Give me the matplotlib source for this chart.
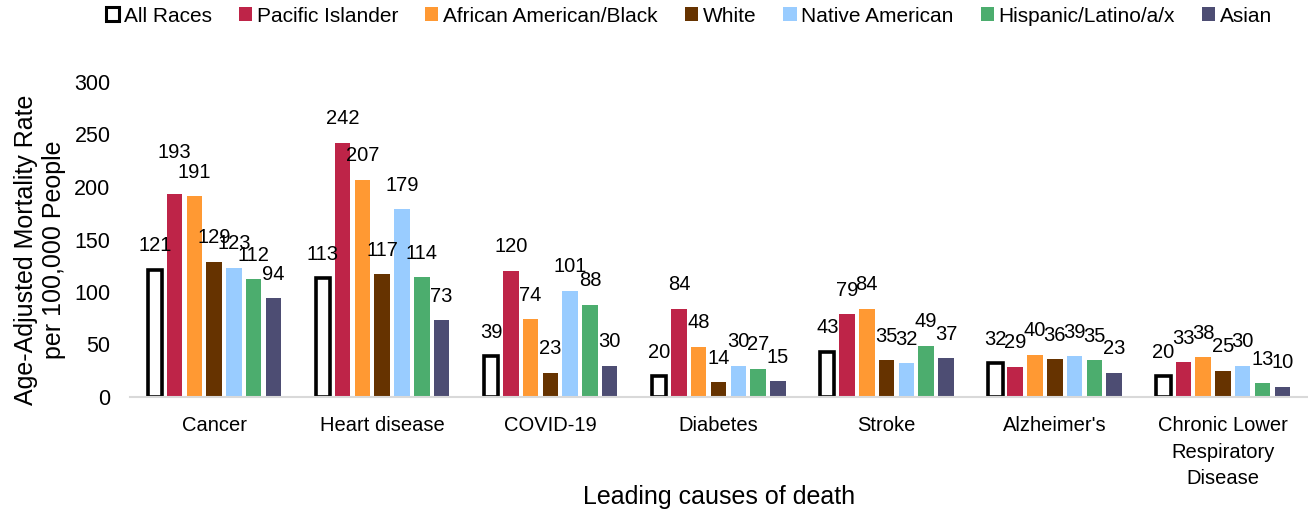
import matplotlib
matplotlib.use("Agg")
import matplotlib.pyplot as plt
import numpy as np
from matplotlib.patches import Patch

categories = ["Cancer", "Heart disease", "COVID-19", "Diabetes", "Stroke",
              "Alzheimer's", "Chronic Lower\nRespiratory\nDisease"]
series_names = ["All Races", "Pacific Islander", "African American/Black", "White",
                "Native American", "Hispanic/Latino/a/x", "Asian"]
all_races = [121, 113, 39, 20, 43, 32, 20]
pacific_islander = [193, 242, 120, 84, 79, 29, 33]
african_american = [191, 207, 74, 48, 84, 40, 38]
white = [129, 117, 23, 14, 35, 36, 25]
native_american = [123, 179, 101, 30, 32, 39, 30]
hispanic = [112, 114, 88, 27, 49, 35, 13]
asian = [94, 73, 30, 15, 37, 23, 10]
yticks = [0, 50, 100, 150, 200, 250, 300]

series = [all_races, pacific_islander, african_american, white,
          native_american, hispanic, asian]
colors = ["white", "#BE2448", "#FF9933", "#663300", "#99CCFF", "#4CAD6E", "#4D4D73"]
# manual label nudges (pixels, extra upward) as in the reference
label_extra = {(1, 0): 18}

FONT = "Liberation Sans"
plt.rcParams["font.family"] = [FONT, "DejaVu Sans"]

fig = plt.figure(figsize=(13.08, 5.12), dpi=100)
ax = fig.add_axes([130/1308, 1-397/512, (1307-130)/1308, (397-82)/512])

n = len(series)
step = 0.1177
width = 0.092
x = np.arange(len(categories))
for i, (vals, c) in enumerate(zip(series, colors)):
    pos = x + (i - (n-1)/2) * step
    if i == 0:
        ax.bar(pos, vals, width=width*0.93, color="white", edgecolor="black",
               linewidth=2.6, zorder=3)
    else:
        ax.bar(pos, vals, width=width, color=c, edgecolor="none", zorder=3)
    for j, (p, v) in enumerate(zip(pos, vals)):
        off = 24 + label_extra.get((i, j), 0)
        ax.annotate(str(v), (p, v), xytext=(0, off), textcoords="offset pixels",
                    ha="center", va="center", fontsize=14.5, color="black", zorder=5)

ax.set_xlim(-0.5, len(categories) - 0.5)
ax.set_ylim(0, 300)
ax.set_yticks(yticks)
ax.set_yticklabels([str(t) for t in yticks], fontsize=15.5)
ax.set_xticks(x)
ax.set_xticklabels(categories, fontsize=14.5, linespacing=1.5, va="top")
ax.tick_params(axis="both", length=0)
ax.tick_params(axis="y", pad=14)
ax.tick_params(axis="x", pad=14)
for s in ["top", "right", "left"]:
    ax.spines[s].set_visible(False)
ax.spines["bottom"].set_color("#D9D9D9")
ax.spines["bottom"].set_linewidth(1.5)
ax.spines["bottom"].set_zorder(4)

fig.text(719/1308, 1-497/512, "Leading causes of death", ha="center", va="center",
         fontsize=18)
fig.text(40/1308, 1-250/512, "Age-Adjusted Mortality Rate\nper 100,000 People",
         ha="center", va="center", rotation=90, fontsize=18, multialignment="center",
         linespacing=1.25)

handles = []
for name, c in zip(series_names, colors):
    if name == "All Races":
        handles.append(Patch(facecolor="white", edgecolor="black", linewidth=2.2, label=name))
    else:
        handles.append(Patch(facecolor=c, edgecolor="none", label=name))
fig.legend(handles=handles, loc="center", bbox_to_anchor=(689/1308, 1-16/512), ncol=7,
           frameon=False, fontsize=15, handlelength=0.64, handleheight=0.64,
           handletextpad=0.22, columnspacing=1.3, borderaxespad=0, borderpad=0)

fig.savefig("out.png", dpi=100)
